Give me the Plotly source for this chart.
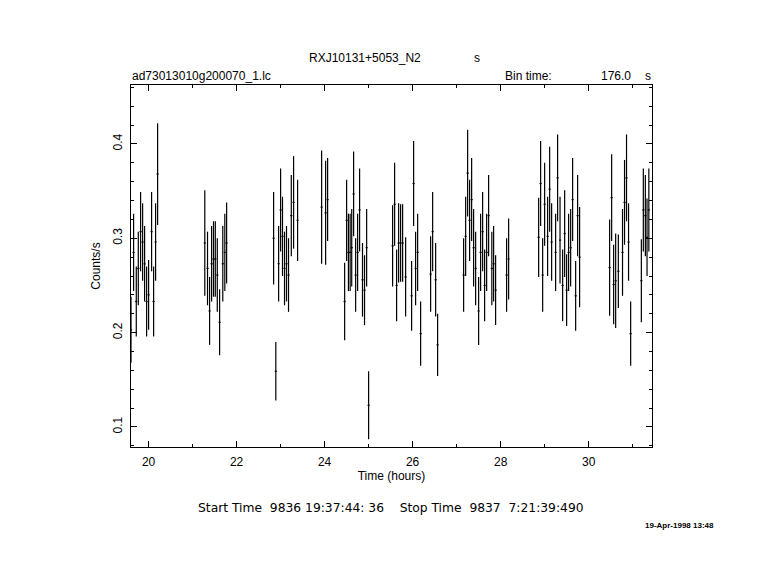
import plotly.graph_objects as go

# ---- data ----
time_hours = [
    19.600, 19.659, 19.720, 19.766, 19.818, 19.864, 19.909, 19.955, 20.000, 20.068, 20.114, 20.159, 20.205,
    21.277, 21.339, 21.386, 21.432, 21.475, 21.516, 21.561, 21.614, 21.686, 21.732, 21.773,
    22.841, 22.891, 22.955, 23.000, 23.043, 23.089, 23.134, 23.180, 23.243, 23.295, 23.386,
    23.932, 24.023, 24.068,
    24.455, 24.500, 24.541, 24.580, 24.616, 24.659, 24.705, 24.750, 24.795, 24.861, 24.907, 24.955, 25.000,
    25.545, 25.591, 25.636, 25.682, 25.727, 25.773, 25.841, 25.977, 26.023, 26.068, 26.114, 26.182,
    26.409, 26.455, 26.523, 26.568,
    27.159, 27.205, 27.250, 27.295, 27.341, 27.386, 27.432, 27.500, 27.545, 27.591, 27.636, 27.682, 27.727,
    27.800, 27.841, 27.886,
    28.136, 28.182,
    28.864, 28.909, 28.955, 29.000, 29.068, 29.114, 29.159, 29.250, 29.295, 29.350, 29.409, 29.455, 29.500,
    29.545, 29.591, 29.636, 29.705, 29.750, 29.795,
    30.477, 30.523, 30.568, 30.614, 30.675, 30.770, 30.816, 30.861, 30.907, 30.955,
    31.198, 31.243, 31.289, 31.327, 31.368,
]
counts = [
    0.203, 0.285, 0.233, 0.268, 0.307, 0.296, 0.273, 0.233, 0.240, 0.307, 0.233, 0.296, 0.368,
    0.295, 0.268, 0.223, 0.273, 0.278, 0.278, 0.261, 0.211, 0.273, 0.285, 0.295,
    0.300, 0.159, 0.273, 0.330, 0.302, 0.268, 0.273, 0.261, 0.324, 0.338, 0.319,
    0.333, 0.327, 0.341,
    0.233, 0.319, 0.285, 0.285, 0.290, 0.347, 0.261, 0.285, 0.330, 0.256, 0.245, 0.290, 0.123,
    0.292, 0.336, 0.250, 0.295, 0.295, 0.295, 0.259, 0.239, 0.358, 0.268, 0.285, 0.199,
    0.262, 0.307, 0.256, 0.187,
    0.261, 0.302, 0.369, 0.319, 0.341, 0.290, 0.268, 0.223, 0.285, 0.307, 0.250, 0.285, 0.324,
    0.268, 0.273, 0.245,
    0.261, 0.278,
    0.301, 0.358, 0.261, 0.336, 0.302, 0.352, 0.296, 0.285, 0.364, 0.298, 0.250, 0.305, 0.245,
    0.285, 0.290, 0.341, 0.239, 0.324, 0.280,
    0.269, 0.343, 0.251, 0.255, 0.265, 0.285, 0.338, 0.364, 0.296, 0.199,
    0.255, 0.330, 0.324, 0.301, 0.330,
]
errors = [
    0.035, 0.041, 0.037, 0.039, 0.042, 0.041, 0.040, 0.037, 0.037, 0.042, 0.037, 0.041, 0.054,
    0.056, 0.039, 0.036, 0.040, 0.040, 0.040, 0.039, 0.035, 0.040, 0.041, 0.043,
    0.049, 0.031, 0.040, 0.044, 0.042, 0.039, 0.040, 0.039, 0.043, 0.049, 0.043,
    0.060, 0.055, 0.044,
    0.041, 0.043, 0.041, 0.041, 0.041, 0.045, 0.039, 0.041, 0.044, 0.039, 0.037, 0.041, 0.036,
    0.043, 0.044, 0.038, 0.042, 0.041, 0.041, 0.042, 0.037, 0.045, 0.039, 0.041, 0.034,
    0.040, 0.042, 0.039, 0.033,
    0.039, 0.042, 0.046, 0.043, 0.044, 0.041, 0.039, 0.036, 0.041, 0.042, 0.038, 0.041, 0.043,
    0.039, 0.040, 0.037,
    0.039, 0.043,
    0.042, 0.045, 0.039, 0.044, 0.042, 0.045, 0.041, 0.041, 0.046, 0.046, 0.038, 0.046, 0.038,
    0.041, 0.041, 0.044, 0.037, 0.043, 0.053,
    0.051, 0.046, 0.042, 0.050, 0.039, 0.046, 0.045, 0.046, 0.041, 0.034,
    0.044, 0.044, 0.043, 0.041, 0.044,
]
bin_half_width_hours = 88.0 / 3600.0  # bin time 176.0 s

title_text = "RXJ10131+5053_N2"
file_text = "ad73013010g200070_1.lc"
x_title = "Time (hours)"
y_title = "Counts/s"
time_range_text = "Start Time  9836 19:37:44: 36    Stop Time  9837  7:21:39:490"
date_text = "19-Apr-1998 13:48"

FONT = "Liberation Sans, Arial, sans-serif"
FONT_WIDE = "DejaVu Sans, sans-serif"

fig = go.Figure()
fig.add_trace(go.Scatter(
    x=time_hours, y=counts, mode="markers",
    marker=dict(size=0, color="black", opacity=0),
    error_y=dict(type="data", array=errors, visible=True, color="black", thickness=1.2, width=0),
    error_x=dict(type="constant", value=bin_half_width_hours, visible=True, color="black", thickness=1.2, width=0),
    showlegend=False, hoverinfo="x+y",
))

OFF = 8  # page body margin
L, T = 123, 77
pw, ph = 521, 362
R, B = 129, 133
W, H = L + pw + R, T + ph + B


def px(x):
    return (x - OFF - L) / pw


def py(y):
    return (OFF + T + ph - y) / ph


axis_common = dict(
    showline=True, linecolor="black", linewidth=1, mirror="ticks",
    ticks="inside", tickcolor="black", tickwidth=1, ticklen=6,
    showgrid=False, zeroline=False,
    tickfont=dict(family=FONT, size=12, color="black"),
)

fig.update_layout(
    width=W, height=H,
    margin=dict(l=L, r=R, t=T, b=B),
    paper_bgcolor="white", plot_bgcolor="white",
    font=dict(family=FONT, size=12, color="black"),
    xaxis=dict(
        range=[19.60, 31.44], tick0=20, dtick=2,
        minor=dict(ticks="inside", dtick=1, ticklen=3, tickcolor="black", showgrid=False),
        title=dict(text=x_title, font=dict(family=FONT, size=12), standoff=0),
        ticklabelstandoff=4,
        **axis_common,
    ),
    yaxis=dict(
        range=[0.0788, 0.4624], tick0=0.1, dtick=0.1, tickangle=-90,
        minor=dict(ticks="inside", dtick=0.02, ticklen=3, tickcolor="black", showgrid=False),
        title=dict(text=y_title, font=dict(family=FONT, size=12), standoff=8),
        ticklabelstandoff=3,
        **axis_common,
    ),
)

ann = [
    (title_text, 365, 58, "center", FONT, 12),
    ("s", 477, 58, "center", FONT, 12),
    (file_text, 130, 76, "left", FONT, 12),
    ("Bin time:", 503, 76, "left", FONT, 12),
    ("176.0", 599, 76, "left", FONT, 12),
    ("s", 648, 76, "center", FONT, 12),
    (time_range_text.replace(" ", "\u00a0"), 391, 508, "center", FONT_WIDE, 12.3),
]
for text, x, y, anchor, fam, size in ann:
    fig.add_annotation(text=text, x=px(x), y=py(y), xref="paper", yref="paper",
                       xanchor=anchor, yanchor="middle", showarrow=False,
                       font=dict(family=fam, size=size, color="black"))

fig.add_annotation(text="<b>" + date_text + "</b>", x=px(643), y=py(525), xref="paper", yref="paper",
                   xanchor="left", yanchor="middle", showarrow=False,
                   font=dict(family=FONT, size=8, color="black"))

fig.write_html("out.html")
